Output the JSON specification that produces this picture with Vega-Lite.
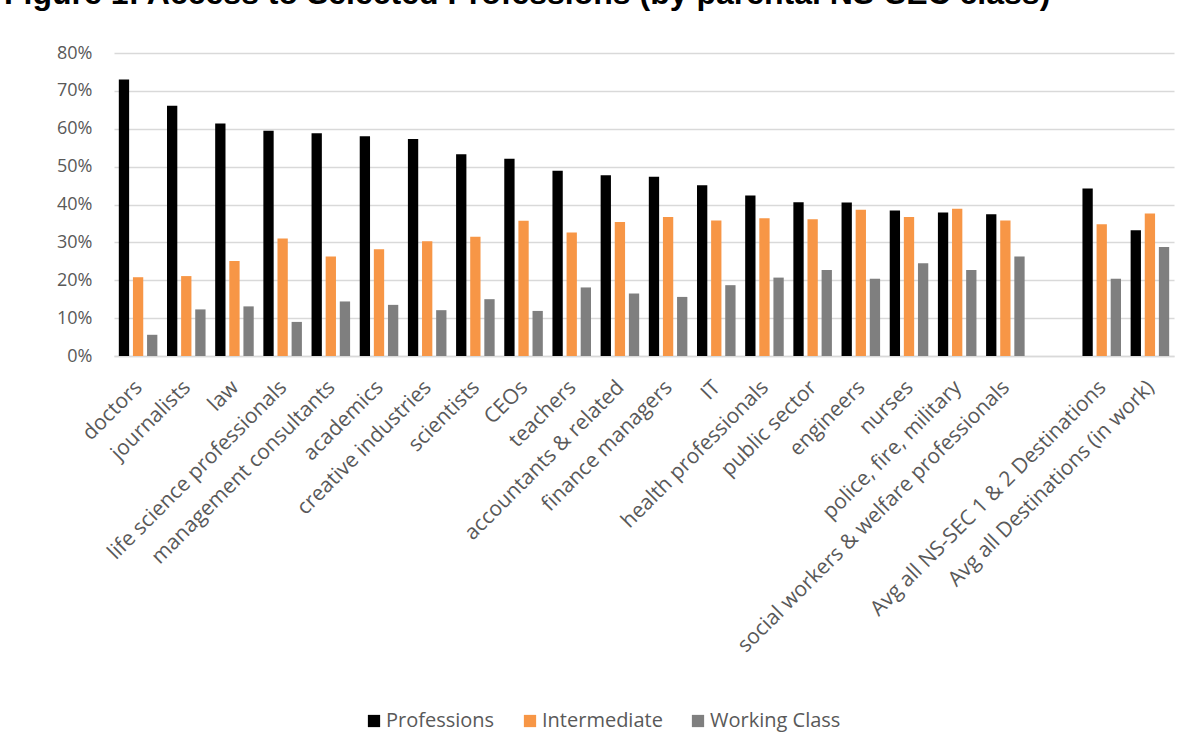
{
  "$schema": "https://vega.github.io/schema/vega-lite/v6.json",
  "autosize": {"type": "none"},
  "width": 1060,
  "height": 303,
  "padding": {"left": 114, "top": 53, "right": 18, "bottom": 395},
  "background": "white",
  "title": {
    "text": "Figure 1: Access to Selected Professions (by parental NS-SEC class)",
    "anchor": "start",
    "frame": "group",
    "font": "Liberation Sans",
    "fontSize": 32,
    "fontWeight": "bold",
    "color": "#000000",
    "baseline": "alphabetic",
    "offset": 8,
    "dx": -110
  },
  "data": {
    "values": [
      {"cat": "doctors", "cls": "Professions", "v": 0.730},
      {"cat": "doctors", "cls": "Intermediate", "v": 0.208},
      {"cat": "doctors", "cls": "Working Class", "v": 0.056},
      {"cat": "journalists", "cls": "Professions", "v": 0.661},
      {"cat": "journalists", "cls": "Intermediate", "v": 0.211},
      {"cat": "journalists", "cls": "Working Class", "v": 0.123},
      {"cat": "law", "cls": "Professions", "v": 0.614},
      {"cat": "law", "cls": "Intermediate", "v": 0.251},
      {"cat": "law", "cls": "Working Class", "v": 0.131},
      {"cat": "life science professionals", "cls": "Professions", "v": 0.595},
      {"cat": "life science professionals", "cls": "Intermediate", "v": 0.310},
      {"cat": "life science professionals", "cls": "Working Class", "v": 0.090},
      {"cat": "management consultants", "cls": "Professions", "v": 0.588},
      {"cat": "management consultants", "cls": "Intermediate", "v": 0.263},
      {"cat": "management consultants", "cls": "Working Class", "v": 0.144},
      {"cat": "academics", "cls": "Professions", "v": 0.580},
      {"cat": "academics", "cls": "Intermediate", "v": 0.282},
      {"cat": "academics", "cls": "Working Class", "v": 0.135},
      {"cat": "creative industries", "cls": "Professions", "v": 0.573},
      {"cat": "creative industries", "cls": "Intermediate", "v": 0.303},
      {"cat": "creative industries", "cls": "Working Class", "v": 0.121},
      {"cat": "scientists", "cls": "Professions", "v": 0.533},
      {"cat": "scientists", "cls": "Intermediate", "v": 0.315},
      {"cat": "scientists", "cls": "Working Class", "v": 0.150},
      {"cat": "CEOs", "cls": "Professions", "v": 0.521},
      {"cat": "CEOs", "cls": "Intermediate", "v": 0.357},
      {"cat": "CEOs", "cls": "Working Class", "v": 0.119},
      {"cat": "teachers", "cls": "Professions", "v": 0.489},
      {"cat": "teachers", "cls": "Intermediate", "v": 0.326},
      {"cat": "teachers", "cls": "Working Class", "v": 0.181},
      {"cat": "accountants & related", "cls": "Professions", "v": 0.477},
      {"cat": "accountants & related", "cls": "Intermediate", "v": 0.354},
      {"cat": "accountants & related", "cls": "Working Class", "v": 0.165},
      {"cat": "finance managers", "cls": "Professions", "v": 0.473},
      {"cat": "finance managers", "cls": "Intermediate", "v": 0.367},
      {"cat": "finance managers", "cls": "Working Class", "v": 0.156},
      {"cat": "IT", "cls": "Professions", "v": 0.451},
      {"cat": "IT", "cls": "Intermediate", "v": 0.358},
      {"cat": "IT", "cls": "Working Class", "v": 0.187},
      {"cat": "health professionals", "cls": "Professions", "v": 0.424},
      {"cat": "health professionals", "cls": "Intermediate", "v": 0.364},
      {"cat": "health professionals", "cls": "Working Class", "v": 0.207},
      {"cat": "public sector", "cls": "Professions", "v": 0.406},
      {"cat": "public sector", "cls": "Intermediate", "v": 0.361},
      {"cat": "public sector", "cls": "Working Class", "v": 0.227},
      {"cat": "engineers", "cls": "Professions", "v": 0.405},
      {"cat": "engineers", "cls": "Intermediate", "v": 0.386},
      {"cat": "engineers", "cls": "Working Class", "v": 0.204},
      {"cat": "nurses", "cls": "Professions", "v": 0.384},
      {"cat": "nurses", "cls": "Intermediate", "v": 0.367},
      {"cat": "nurses", "cls": "Working Class", "v": 0.245},
      {"cat": "police, fire, military", "cls": "Professions", "v": 0.379},
      {"cat": "police, fire, military", "cls": "Intermediate", "v": 0.389},
      {"cat": "police, fire, military", "cls": "Working Class", "v": 0.227},
      {"cat": "social workers & welfare professionals", "cls": "Professions", "v": 0.374},
      {"cat": "social workers & welfare professionals", "cls": "Intermediate", "v": 0.358},
      {"cat": "social workers & welfare professionals", "cls": "Working Class", "v": 0.263},
      {"cat": "Avg all NS-SEC 1 & 2 Destinations", "cls": "Professions", "v": 0.442},
      {"cat": "Avg all NS-SEC 1 & 2 Destinations", "cls": "Intermediate", "v": 0.348},
      {"cat": "Avg all NS-SEC 1 & 2 Destinations", "cls": "Working Class", "v": 0.204},
      {"cat": "Avg all Destinations (in work)", "cls": "Professions", "v": 0.332},
      {"cat": "Avg all Destinations (in work)", "cls": "Intermediate", "v": 0.376},
      {"cat": "Avg all Destinations (in work)", "cls": "Working Class", "v": 0.288}
    ]
  },
  "mark": {"type": "bar"},
  "encoding": {
    "x": {
      "field": "cat",
      "type": "nominal",
      "scale": {
        "domain": ["doctors", "journalists", "law", "life science professionals", "management consultants", "academics", "creative industries", "scientists", "CEOs", "teachers", "accountants & related", "finance managers", "IT", "health professionals", "public sector", "engineers", "nurses", "police, fire, military", "social workers & welfare professionals", " ", "Avg all NS-SEC 1 & 2 Destinations", "Avg all Destinations (in work)"],
        "paddingInner": 0.2,
        "paddingOuter": 0.1
      },
      "axis": {
        "title": null,
        "labelAngle": -45,
        "labelAlign": "right",
        "labelBaseline": "middle",
        "labelFont": "Open Sans",
        "labelFontSize": 21,
        "labelColor": "#595959",
        "labelPadding": 28,
        "labelOffset": 1,
        "labelLimit": 450,
        "ticks": false,
        "domainColor": "#D9D9D9",
        "domainWidth": 1.5,
        "grid": false
      }
    },
    "xOffset": {
      "field": "cls",
      "type": "nominal",
      "sort": ["Professions", "Intermediate", "Working Class"],
      "scale": {"paddingInner": 0.27, "paddingOuter": 0}
    },
    "y": {
      "field": "v",
      "type": "quantitative",
      "scale": {"domain": [0, 0.8], "nice": false},
      "axis": {
        "title": null,
        "format": ".0%",
        "values": [0, 0.1, 0.2, 0.3, 0.4, 0.5, 0.6, 0.7, 0.8],
        "labelFont": "Open Sans",
        "labelFontSize": 18,
        "labelColor": "#595959",
        "labelPadding": 22,
        "ticks": false,
        "domain": false,
        "gridColor": "#D9D9D9",
        "gridWidth": 1.5
      }
    },
    "color": {
      "field": "cls",
      "type": "nominal",
      "sort": ["Professions", "Intermediate", "Working Class"],
      "scale": {
        "domain": ["Professions", "Intermediate", "Working Class"],
        "range": ["#000000", "#F79646", "#7F7F7F"]
      },
      "legend": {
        "title": null,
        "orient": "none",
        "direction": "horizontal",
        "legendX": 250,
        "legendY": 658,
        "symbolType": "square",
        "symbolSize": 150,
        "symbolStrokeWidth": 0,
        "labelFont": "Open Sans",
        "labelFontSize": 20,
        "labelColor": "#595959",
        "labelOffset": 2,
        "columnPadding": 25
      }
    }
  },
  "config": {
    "view": {"stroke": null}
  }
}
